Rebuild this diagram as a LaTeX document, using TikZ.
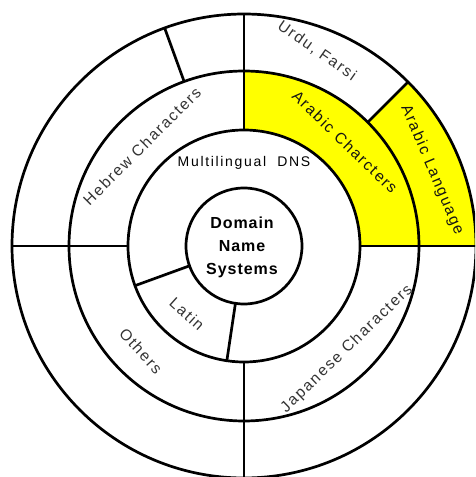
\documentclass[tikz,border=0pt]{standalone}
\usepackage{fontspec}
\setmainfont{Liberation Sans}
\newfontfamily\ringfont[LetterSpace=11]{Liberation Sans}
\newfontfamily\hubfont[LetterSpace=6]{Liberation Sans}
\definecolor{sectoryellow}{RGB}{255,255,0}
\tikzset{
  ringline/.style={draw=black, line width=2.7pt},
  ringlabel/.style={font=\ringfont\fontsize{15.5}{17}\selectfont, text=black!80, inner sep=0pt},
  darklabel/.style={ringlabel, text=black!92},
  hublabel/.style={font=\hubfont\bfseries\fontsize{16}{23}\selectfont, align=center, inner sep=0pt}
}
\begin{document}
\begin{tikzpicture}[x=1pt, y=1pt]
  \useasboundingbox (-244,-231) rectangle (231,246);
  \clip (-244,-231) rectangle (231,246);
  \fill[white] (-244,-231) rectangle (231,246);

  % yellow sectors: Arabic characters (ring 3) and Arabic language (ring 4)
  \fill[sectoryellow] (0:116pt) -- (0:175pt) arc[start angle=0, end angle=90, radius=175pt]
        -- (90:116pt) arc[start angle=90, end angle=0, radius=116pt] -- cycle;
  \fill[sectoryellow] (0:175pt) -- (0:232pt) arc[start angle=0, end angle=45, radius=232pt]
        -- (45:175pt) arc[start angle=45, end angle=0, radius=175pt] -- cycle;

  % concentric rings
  \draw[ringline] (0,0) circle[radius=58pt];
  \draw[ringline] (0,0) circle[radius=116pt];
  \draw[ringline] (0,0) circle[radius=175pt];
  \draw[ringline] (0,0) circle[radius=232pt];

  % quadrant dividers across the two outer rings
  \foreach \a in {0,90,180,270}
    \draw[ringline] (\a:116pt) -- (\a:232pt);
  % dividers in the outermost ring
  \draw[ringline] (45:175pt) -- (45:232pt);
  \draw[ringline] (110:175pt) -- (110:232pt);
  % Latin wedge in the multilingual ring
  \draw[ringline] (200:58pt) -- (200:116pt);
  \draw[ringline] (261.5:58pt) -- (261.5:116pt);

  % labels
  \node[hublabel] (dns) at (-2,-1) {Domain\\Name\\Systems};
  \node[font=\fontsize{14}{16}\selectfont, anchor=base, inner sep=0pt] (multi) at (0,80)
        {\addfontfeature{LetterSpace=12}Multilingual\ \ DNS};
  \node[ringlabel, rotate=45] (hebrew) at (-102,100) {Hebrew Characters};
  \node[ringlabel, rotate=-35] (urdu) at (73,195) {Urdu, Farsi};
  \node[darklabel, rotate=-44] (arabchar) at (101,104) {Arabic Charcters};
  \node[darklabel, rotate=-67] (arablang) at (188,76) {Arabic Language};
  \node[ringlabel, rotate=44] (japan) at (103,-103) {Japanese\ Characters};
  \node[ringlabel, rotate=-48] (others) at (-103,-105) {Others};
  \node[ringlabel, rotate=-42] (latin) at (-57,-68) {Latin};
\end{tikzpicture}
\end{document}
